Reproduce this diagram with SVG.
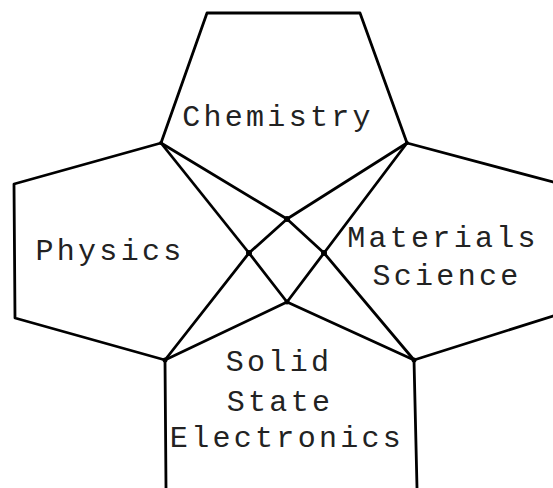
<svg xmlns="http://www.w3.org/2000/svg" width="553" height="488" viewBox="0 0 553 488">
<style>
.edge{fill:none;stroke:#000;stroke-width:2.8;stroke-linejoin:round;stroke-linecap:round}
.lbl{font-family:"Liberation Mono","DejaVu Sans Mono",monospace;font-size:30px;letter-spacing:3.3px;fill:#222;text-anchor:middle}
.dot{fill:#000}
</style>
<rect width="553" height="488" fill="#fff"/>
<g id="chemistry">
<polyline class="edge" points="161,143 207,13 360,13 407,143"/>
<text class="lbl" x="278" y="126">Chemistry</text>
</g>
<g id="physics">
<polyline class="edge" points="161,143 14,184 15,318 165,360"/>
<text class="lbl" x="110" y="260">Physics</text>
</g>
<g id="materials">
<polyline class="edge" points="407,143 553,182"/>
<polyline class="edge" points="414,360 553,316"/>
<text class="lbl" x="443" y="247">Materials</text>
<text class="lbl" x="447" y="285">Science</text>
</g>
<g id="solid-state">
<polyline class="edge" points="165,360 166,488"/>
<polyline class="edge" points="414,360 417,488"/>
<text class="lbl" x="279" y="371">Solid</text>
<text class="lbl" x="280" y="411">State</text>
<text class="lbl" x="287" y="447">Electronics</text>
</g>
<g id="connectors">
<line class="edge" x1="161" y1="143" x2="287" y2="219"/>
<line class="edge" x1="161" y1="143" x2="249" y2="253"/>
<line class="edge" x1="407" y1="143" x2="287" y2="219"/>
<line class="edge" x1="407" y1="143" x2="324" y2="253"/>
<line class="edge" x1="165" y1="360" x2="249" y2="253"/>
<line class="edge" x1="165" y1="360" x2="287" y2="302"/>
<line class="edge" x1="414" y1="360" x2="324" y2="253"/>
<line class="edge" x1="414" y1="360" x2="287" y2="302"/>
<polygon class="edge" points="287,219 249,253 287,302 324,253"/>
<circle class="dot" cx="287" cy="219" r="3"/>
<circle class="dot" cx="249" cy="253" r="3"/>
<circle class="dot" cx="324" cy="253" r="3"/>
<circle class="dot" cx="287" cy="302" r="2.5"/>
<circle class="dot" cx="161" cy="143" r="2"/>
<circle class="dot" cx="407" cy="143" r="2"/>
<circle class="dot" cx="165" cy="360" r="2.5"/>
<circle class="dot" cx="414" cy="360" r="2.5"/>
</g>
</svg>
